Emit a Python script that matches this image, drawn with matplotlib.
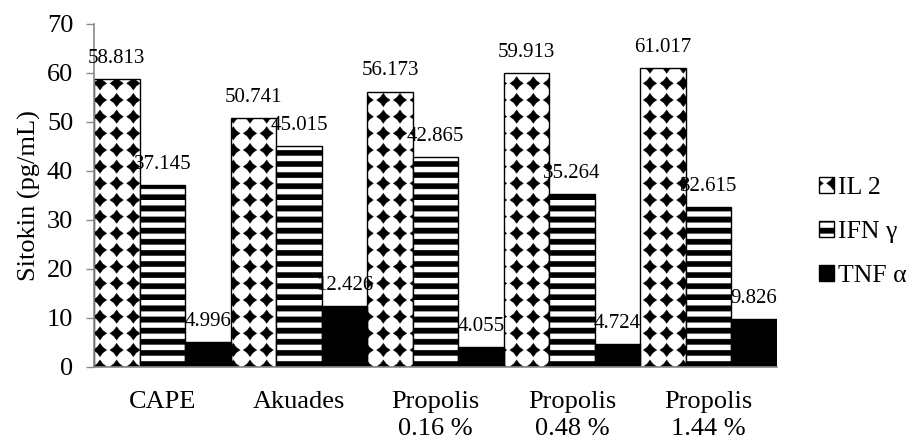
import numpy as np
import matplotlib
matplotlib.use("Agg")
import matplotlib.pyplot as plt
import matplotlib.hatch as mhatch
from matplotlib.path import Path

categories = ["CAPE", "Akuades", "Propolis\n0.16 %", "Propolis\n0.48 %", "Propolis\n1.44 %"]
series = ["IL 2", "IFN γ", "TNF α"]
il2 = [58.813, 50.741, 56.173, 59.913, 61.017]
ifn = [37.145, 45.015, 42.865, 35.264, 32.615]
tnf = [4.996, 12.426, 4.055, 4.724, 9.826]
yticks = [0, 10, 20, 30, 40, 50, 60, 70]


# ── Excel-like fills: diamond grid for '*', thick stripes for '-' ─────────────
class DiamondGrid(mhatch.HatchPatternBase):
    def __init__(self, hatch, density):
        self.num_rows = hatch.count("*") * density
        self.shape = Path.unit_regular_star(4, 0.6).vertices
        n = self.num_rows
        self.num_vertices = (n + 1) ** 2 * len(self.shape) if n else 0

    def set_vertices_and_codes(self, vertices, codes):
        step = 1.0 / self.num_rows
        shape = self.shape * step * 0.4
        c = np.full(len(shape), Path.LINETO, dtype=Path.code_type)
        c[0], c[-1] = Path.MOVETO, Path.CLOSEPOLY
        pos = np.linspace(0, 1, self.num_rows + 1)
        verts = [shape + [cx, cy] for cy in pos for cx in pos]
        np.concatenate(verts, out=vertices)
        np.concatenate([c] * len(verts), out=codes)


class Stripes(mhatch.HatchPatternBase):
    def __init__(self, hatch, density):
        self.num_lines = hatch.count("-") * 9
        self.num_vertices = self.num_lines * 5

    def set_vertices_and_codes(self, vertices, codes):
        h = 0.48 / self.num_lines
        rect = np.array([[-0.1, 0], [1.1, 0], [1.1, h], [-0.1, h], [-0.1, 0]])
        c = np.array([Path.MOVETO, Path.LINETO, Path.LINETO, Path.LINETO,
                      Path.CLOSEPOLY], dtype=Path.code_type)
        ys = np.arange(self.num_lines) / self.num_lines
        np.concatenate([rect + [0, y] for y in ys], out=vertices)
        np.concatenate([c] * self.num_lines, out=codes)


mhatch._hatch_types = [Stripes, DiamondGrid]

plt.rcParams.update({
    "font.family": ["Liberation Serif", "DejaVu Serif"],
    "hatch.linewidth": 0.3,
    "hatch.color": "black",
})

AXIS = "#898989"

fig = plt.figure(figsize=(9.13, 4.41), dpi=100)
ax = fig.add_axes([0.103, 0.168, 0.748, 0.778])

x = np.arange(len(categories))
w = 1 / 3
b1 = ax.bar(x - w, il2, w, color="white", edgecolor="black", hatch="*",
            linewidth=1.0, label=series[0])
b2 = ax.bar(x, ifn, w, color="white", edgecolor="black", hatch="-",
            linewidth=1.0, label=series[1])
b3 = ax.bar(x + w, tnf, w, color="black", edgecolor="black",
            linewidth=1.0, label=series[2])

for bars in (b1, b2, b3):
    ax.bar_label(bars, fmt="%.3f", padding=8, fontsize=15, zorder=5)

ax.set_xlim(-0.5, len(categories) - 0.5)
ax.set_ylim(0, 70)
ax.set_yticks(yticks)
ax.set_xticks(x)
ax.set_xticklabels(categories, fontsize=19, linespacing=1.3)
ax.tick_params(axis="x", length=0, pad=17)
ax.tick_params(axis="y", length=6, width=1.0, color=AXIS, pad=9, labelsize=19)
ax.set_ylabel("Sitokin (pg/mL)", fontsize=19, labelpad=4)

for side in ("top", "right"):
    ax.spines[side].set_visible(False)
for side in ("left", "bottom"):
    ax.spines[side].set_color(AXIS)
    ax.spines[side].set_linewidth(1.2)

ax.legend(loc="center left", bbox_to_anchor=(0.897, 0.474),
          bbox_transform=fig.transFigure, frameon=False, fontsize=18.5,
          handlelength=0.6, handleheight=0.6, handletextpad=0.15,
          labelspacing=0.85, borderpad=0, borderaxespad=0)

fig.savefig("out.png", dpi=100)
print("Saved out.png")
